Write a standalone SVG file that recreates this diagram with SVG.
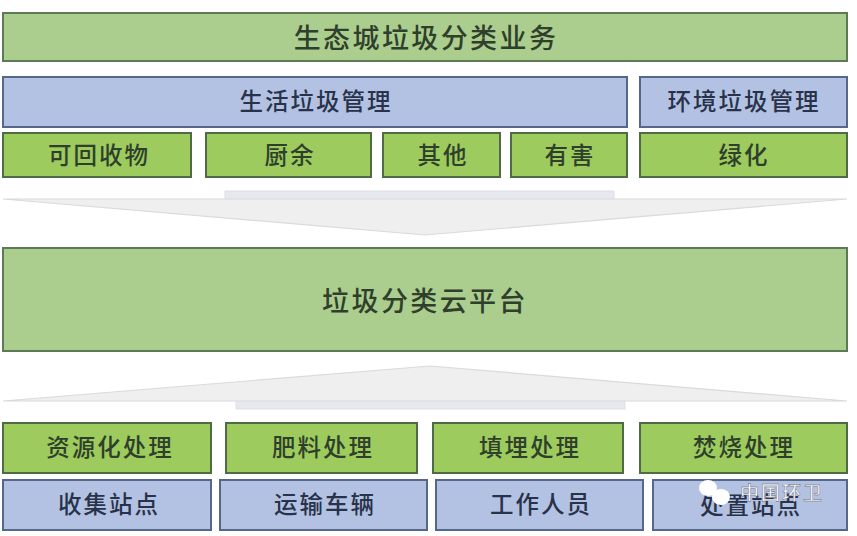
<svg xmlns="http://www.w3.org/2000/svg" width="857" height="536" viewBox="0 0 857 536">
<style>
.g rect{fill:#9dcb5e;stroke:#4f6b45;stroke-width:2}
.l rect{fill:#abcd8e;stroke:#5d7a57;stroke-width:2}
.b rect{fill:#b3c2e2;stroke:#55688c;stroke-width:2}
text{font-family:"Noto Sans CJK SC","Noto Sans",sans-serif;font-weight:500;fill:#2f3f2c;text-anchor:middle;dominant-baseline:central;font-size:23.5px;letter-spacing:2px}
.b text{fill:#28324a}
.l text{font-size:27px;letter-spacing:2.4px}
.a{fill:#efefef;stroke:#d8dade;stroke-width:1.2}
.s{fill:#e6e8ee;stroke:#dfe0e4}
.w{font-size:19px;letter-spacing:2px;fill:#fff;stroke:#556;stroke-width:.4}
</style>
<rect width="857" height="536" fill="#fff"/>
<g id="connectors">
<rect class="s" x="225" y="191" width="389" height="10"/>
<polygon class="a" points="3,199 847,199 425,235"/>
<rect class="s" x="236" y="398" width="389" height="11"/>
<polygon class="a" points="3,401 430,366 847,401"/>
</g>
<g id="n-title" class="l"><rect x="3" y="13" width="844" height="48"/><text x="426" y="36">生态城垃圾分类业务</text></g>
<g id="n-life" class="b"><rect x="3" y="77" width="624" height="50"/><text x="316" y="100">生活垃圾管理</text></g>
<g id="n-env" class="b"><rect x="640" y="77" width="207" height="50"/><text x="744" y="100">环境垃圾管理</text></g>
<g id="n-recycle" class="g"><rect x="3" y="133" width="188" height="44"/><text x="99" y="154">可回收物</text></g>
<g id="n-kitchen" class="g"><rect x="206" y="133" width="165" height="44"/><text x="290" y="154">厨余</text></g>
<g id="n-other" class="g"><rect x="383" y="133" width="117" height="44"/><text x="443" y="154">其他</text></g>
<g id="n-harm" class="g"><rect x="511" y="133" width="116" height="44"/><text x="570" y="154">有害</text></g>
<g id="n-green" class="g"><rect x="640" y="133" width="207" height="44"/><text x="744" y="154">绿化</text></g>
<g id="n-cloud" class="l"><rect x="3" y="248" width="844" height="103"/><text x="425" y="299">垃圾分类云平台</text></g>
<g id="n-res" class="g"><rect x="3" y="423" width="208" height="50"/><text x="110" y="446">资源化处理</text></g>
<g id="n-fert" class="g"><rect x="226" y="423" width="191" height="50"/><text x="323" y="446">肥料处理</text></g>
<g id="n-land" class="g"><rect x="433" y="423" width="190" height="50"/><text x="530" y="446">填埋处理</text></g>
<g id="n-burn" class="g"><rect x="640" y="423" width="207" height="50"/><text x="744" y="446">焚烧处理</text></g>
<g id="n-collect" class="b"><rect x="3" y="480" width="208" height="50"/><text x="109" y="503">收集站点</text></g>
<g id="n-trans" class="b"><rect x="220" y="480" width="207" height="50"/><text x="325" y="503">运输车辆</text></g>
<g id="n-staff" class="b"><rect x="436" y="480" width="207" height="50"/><text x="541" y="503">工作人员</text></g>
<g id="n-site" class="b"><rect x="653" y="480" width="194" height="50"/><text x="751" y="504">处置站点</text></g>
<g id="watermark">
<ellipse cx="708" cy="488" rx="9" ry="8" fill="#fff"/>
<ellipse cx="721" cy="497" rx="9" ry="8" fill="#fff"/>
<text class="w" x="782" y="491">中国环卫</text>
</g>
</svg>
